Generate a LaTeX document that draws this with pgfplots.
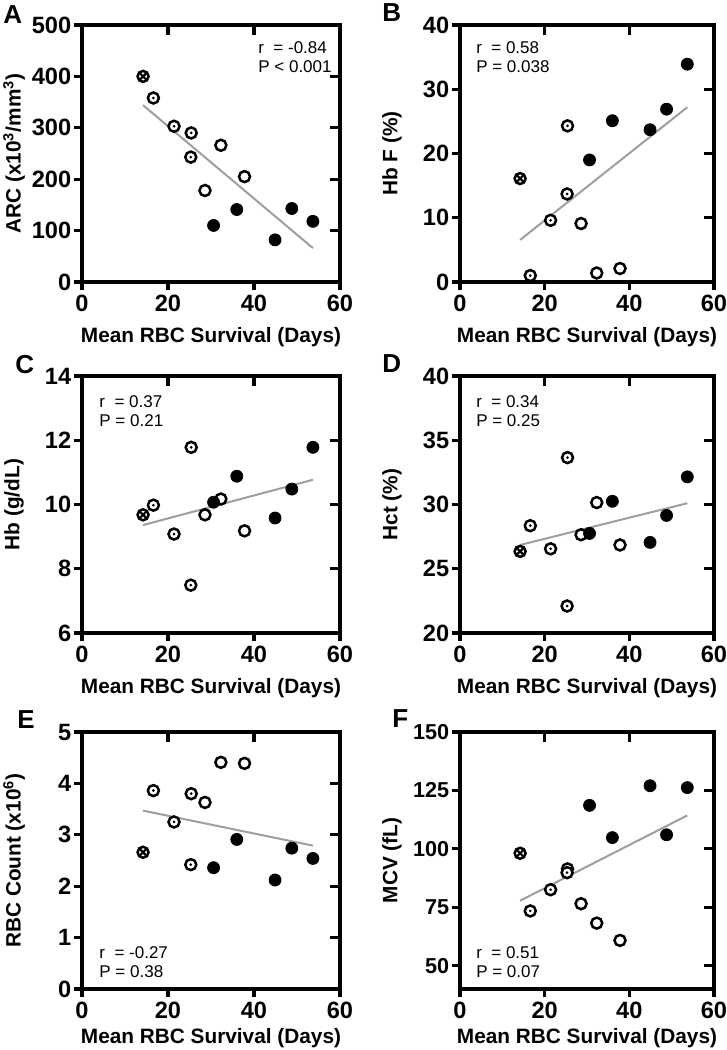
\documentclass[border=0pt]{standalone}
\usepackage{fontspec}
\setmainfont{Liberation Sans}
\usepackage{pgfplots}
\usepackage{pgfplotstable}
\pgfplotsset{compat=1.18}

% x = mean RBC survival (days), g = group, A..F = the six measures
\pgfplotstableread{
x    g A   B    C     D     E    F
14.2 x 400 16.1 9.68  26.35 2.66 98.1
16.6 d 358 1.0  9.98  28.35 3.86 73.4
21.4 d 303 9.6  9.08  26.55 3.25 82.5
25.4 d 290 24.3 11.78 33.65 3.80 91.4
25.3 d 243 13.7 7.49  22.10 2.42 89.8
28.6 o 178 9.1  9.68  27.65 3.63 76.5
32.3 o 266 1.4  10.17 30.15 4.41 68.2
37.8 o 205 2.1  9.18  26.85 4.39 60.8
30.6 f 110 19.0 10.07 27.75 2.36 118.6
36.0 f 141 25.1 10.88 30.25 2.91 104.8
44.9 f 82  23.7 9.58  27.05 2.12 127.0
48.8 f 143 26.9 10.48 29.15 2.74 106.0
53.7 f 118 33.9 11.78 32.15 2.54 126.2
}\survival

% end points of the fitted lines
\pgfplotstableread{
x    A   B     C     D     E    F
14.2 344 6.55  9.36  26.85 3.47 77.8
53.7 66  27.2  10.77 30.10 2.79 114.3
}\fits

\definecolor{fitgray}{RGB}{158,158,158}

\pgfdeclareplotmark{odot}{%
  \pgfpathcircle{\pgfpointorigin}{\pgfplotmarksize}\pgfusepathqfillstroke
  \pgfsetfillcolor{black}%
  \pgfpathcircle{\pgfpointorigin}{0.75pt}\pgfusepathqfill}
\pgfdeclareplotmark{ocross}{%
  \pgfpathcircle{\pgfpointorigin}{\pgfplotmarksize}\pgfusepathqfillstroke
  \pgfsetlinewidth{1.1pt}%
  \pgfpathmoveto{\pgfpoint{-0.66\pgfplotmarksize}{-0.66\pgfplotmarksize}}%
  \pgfpathlineto{\pgfpoint{0.66\pgfplotmarksize}{0.66\pgfplotmarksize}}%
  \pgfpathmoveto{\pgfpoint{-0.66\pgfplotmarksize}{0.66\pgfplotmarksize}}%
  \pgfpathlineto{\pgfpoint{0.66\pgfplotmarksize}{-0.66\pgfplotmarksize}}%
  \pgfusepathqstroke}

\tikzset{
  stat/.style={anchor=north west, inner sep=0pt, align=left, font=\fontsize{8.5}{9.5}\selectfont},
  letter/.style={anchor=base west, inner sep=0pt, font=\fontsize{13}{13}\bfseries\selectfont}
}

\pgfplotsset{
  box/.style={anchor=south west, scale only axis, width=129pt, height=128.5pt,
    xmin=0, xmax=60, clip=false,
    axis line style={line width=1.6pt},
    major tick style={line width=1.6pt, black}},
  right col/.style={width=127pt},
  low label/.style={every axis x label/.append style={yshift=-3pt}},
  panel/.style={box, xtick={0,20,40,60},
    major tick length=4.2pt, tick align=outside, xtick pos=left, ytick pos=left,
    /pgf/number format/assume math mode=true,
    ticklabel style={font=\fontsize{11.8}{12}\bfseries\selectfont},
    yticklabel style={inner sep=1pt},
    xticklabel style={inner sep=2pt},
    xlabel={Mean RBC Survival (Days)},
    every axis x label/.style={at={(axis description cs:0.5,0)}, yshift=-16pt, anchor=north,
      font=\fontsize{10.4}{12}\bfseries\selectfont},
    every axis y label/.style={at={(axis description cs:0,0.5)}, xshift=-34pt, rotate=90, anchor=center,
      font=\fontsize{10.4}{12}\bfseries\selectfont}},
  mirror/.style={box, xtick={20,40}, major tick length=5pt, tick align=inside,
    xtick pos=right, ytick pos=right, xticklabels={}, yticklabels={}},
  pts/.style={scatter, only marks, scatter src=explicit symbolic,
    scatter/classes={
      f={mark=*, mark size=3.0pt, draw=black, fill=black},
      o={mark=o, mark size=2.75pt, line width=1.25pt, draw=black, fill=white},
      d={mark=odot, mark size=2.75pt, line width=1.25pt, draw=black, fill=white},
      x={mark=ocross, mark size=2.75pt, line width=1.25pt, draw=black, fill=white}}},
  fit/.style={no marks, draw=fitgray, line width=1pt}
}

\begin{document}
\begin{tikzpicture}
\useasboundingbox (-41pt,-30.5pt) rectangle (322.5pt,494.5pt);
% ---- A
\begin{axis}[panel, low label, at={(0pt,353.5pt)}, ymin=0, ymax=500, ytick={0,100,...,500},
  ylabel={ARC (x10\textsuperscript{3}/mm\textsuperscript{3})}]
  \addplot[fit] table[x=x, y=A] {\fits};
  \addplot[pts] table[x=x, y=A, meta=g] {\survival};
  \node[stat] at (rel axis cs:0.682,0.936) {r\ \ = -0.84\\P < 0.001};
  \node[letter, xshift=-39.5pt, yshift=1pt] at (rel axis cs:0,1) {A};
\end{axis}
\begin{axis}[mirror, at={(0pt,353.5pt)}, ymin=0, ymax=500, ytick={100,200,...,400}]
\end{axis}
% ---- B
\begin{axis}[panel, low label, right col, at={(189pt,353.5pt)}, ymin=0, ymax=40, ytick={0,10,...,40},
  ylabel={Hb F (\%)}]
  \addplot[fit] table[x=x, y=B] {\fits};
  \addplot[pts] table[x=x, y=B, meta=g] {\survival};
  \node[stat] at (rel axis cs:0.0625,0.936) {r\ \ = 0.58\\P = 0.038};
  \node[letter, xshift=-39pt, yshift=1.5pt] at (rel axis cs:0,1) {B};
\end{axis}
\begin{axis}[mirror, right col, at={(189pt,353.5pt)}, ymin=0, ymax=40, ytick={10,20,30}]
\end{axis}
% ---- C
\begin{axis}[panel, low label, at={(0pt,178pt)}, ymin=6, ymax=14, ytick={6,8,...,14},
  ylabel={Hb (g/dL)}]
  \addplot[fit] table[x=x, y=C] {\fits};
  \addplot[pts] table[x=x, y=C, meta=g] {\survival};
  \node[stat] at (rel axis cs:0.066,0.924) {r\ \ = 0.37\\P = 0.21};
  \node[letter, xshift=-33.5pt, yshift=1.5pt] at (rel axis cs:0,1) {C};
\end{axis}
\begin{axis}[mirror, at={(0pt,178pt)}, ymin=6, ymax=14, ytick={8,10,12}]
\end{axis}
% ---- D
\begin{axis}[panel, low label, right col, at={(189pt,178pt)}, ymin=20, ymax=40, ytick={20,25,...,40},
  ylabel={Hct (\%)}]
  \addplot[fit] table[x=x, y=D] {\fits};
  \addplot[pts] table[x=x, y=D, meta=g] {\survival};
  \node[stat] at (rel axis cs:0.0625,0.924) {r\ \ = 0.34\\P = 0.25};
  \node[letter, xshift=-39pt, yshift=1.5pt] at (rel axis cs:0,1) {D};
\end{axis}
\begin{axis}[mirror, right col, at={(189pt,178pt)}, ymin=20, ymax=40, ytick={25,30,35}]
\end{axis}
% ---- E
\begin{axis}[panel, at={(0pt,0pt)}, ymin=0, ymax=5, ytick={0,1,...,5},
  ylabel={RBC Count (x10\textsuperscript{6})}]
  \addplot[fit] table[x=x, y=E] {\fits};
  \addplot[pts] table[x=x, y=E, meta=g] {\survival};
  \node[stat] at (rel axis cs:0.066,0.167) {r\ \ = -0.27\\P = 0.38};
  \node[letter, xshift=-32.5pt, yshift=2pt] at (rel axis cs:0,1) {E};
\end{axis}
\begin{axis}[mirror, at={(0pt,0pt)}, ymin=0, ymax=5, ytick={1,2,3,4}]
\end{axis}
% ---- F
\begin{axis}[panel, right col, at={(189pt,0pt)}, ymin=40, ymax=150, ytick={50,75,...,150},
  yticklabel style={font=\fontsize{10.8}{12}\bfseries\selectfont},
  ylabel={MCV (fL)}]
  \addplot[fit] table[x=x, y=F] {\fits};
  \addplot[pts] table[x=x, y=F, meta=g] {\survival};
  \node[stat] at (rel axis cs:0.0625,0.167) {r\ \ = 0.51\\P = 0.07};
  \node[letter, xshift=-34pt, yshift=2pt] at (rel axis cs:0,1) {F};
\end{axis}
\begin{axis}[mirror, right col, at={(189pt,0pt)}, ymin=40, ymax=150, ytick={50,75,100,125}]
\end{axis}
\end{tikzpicture}
\end{document}
